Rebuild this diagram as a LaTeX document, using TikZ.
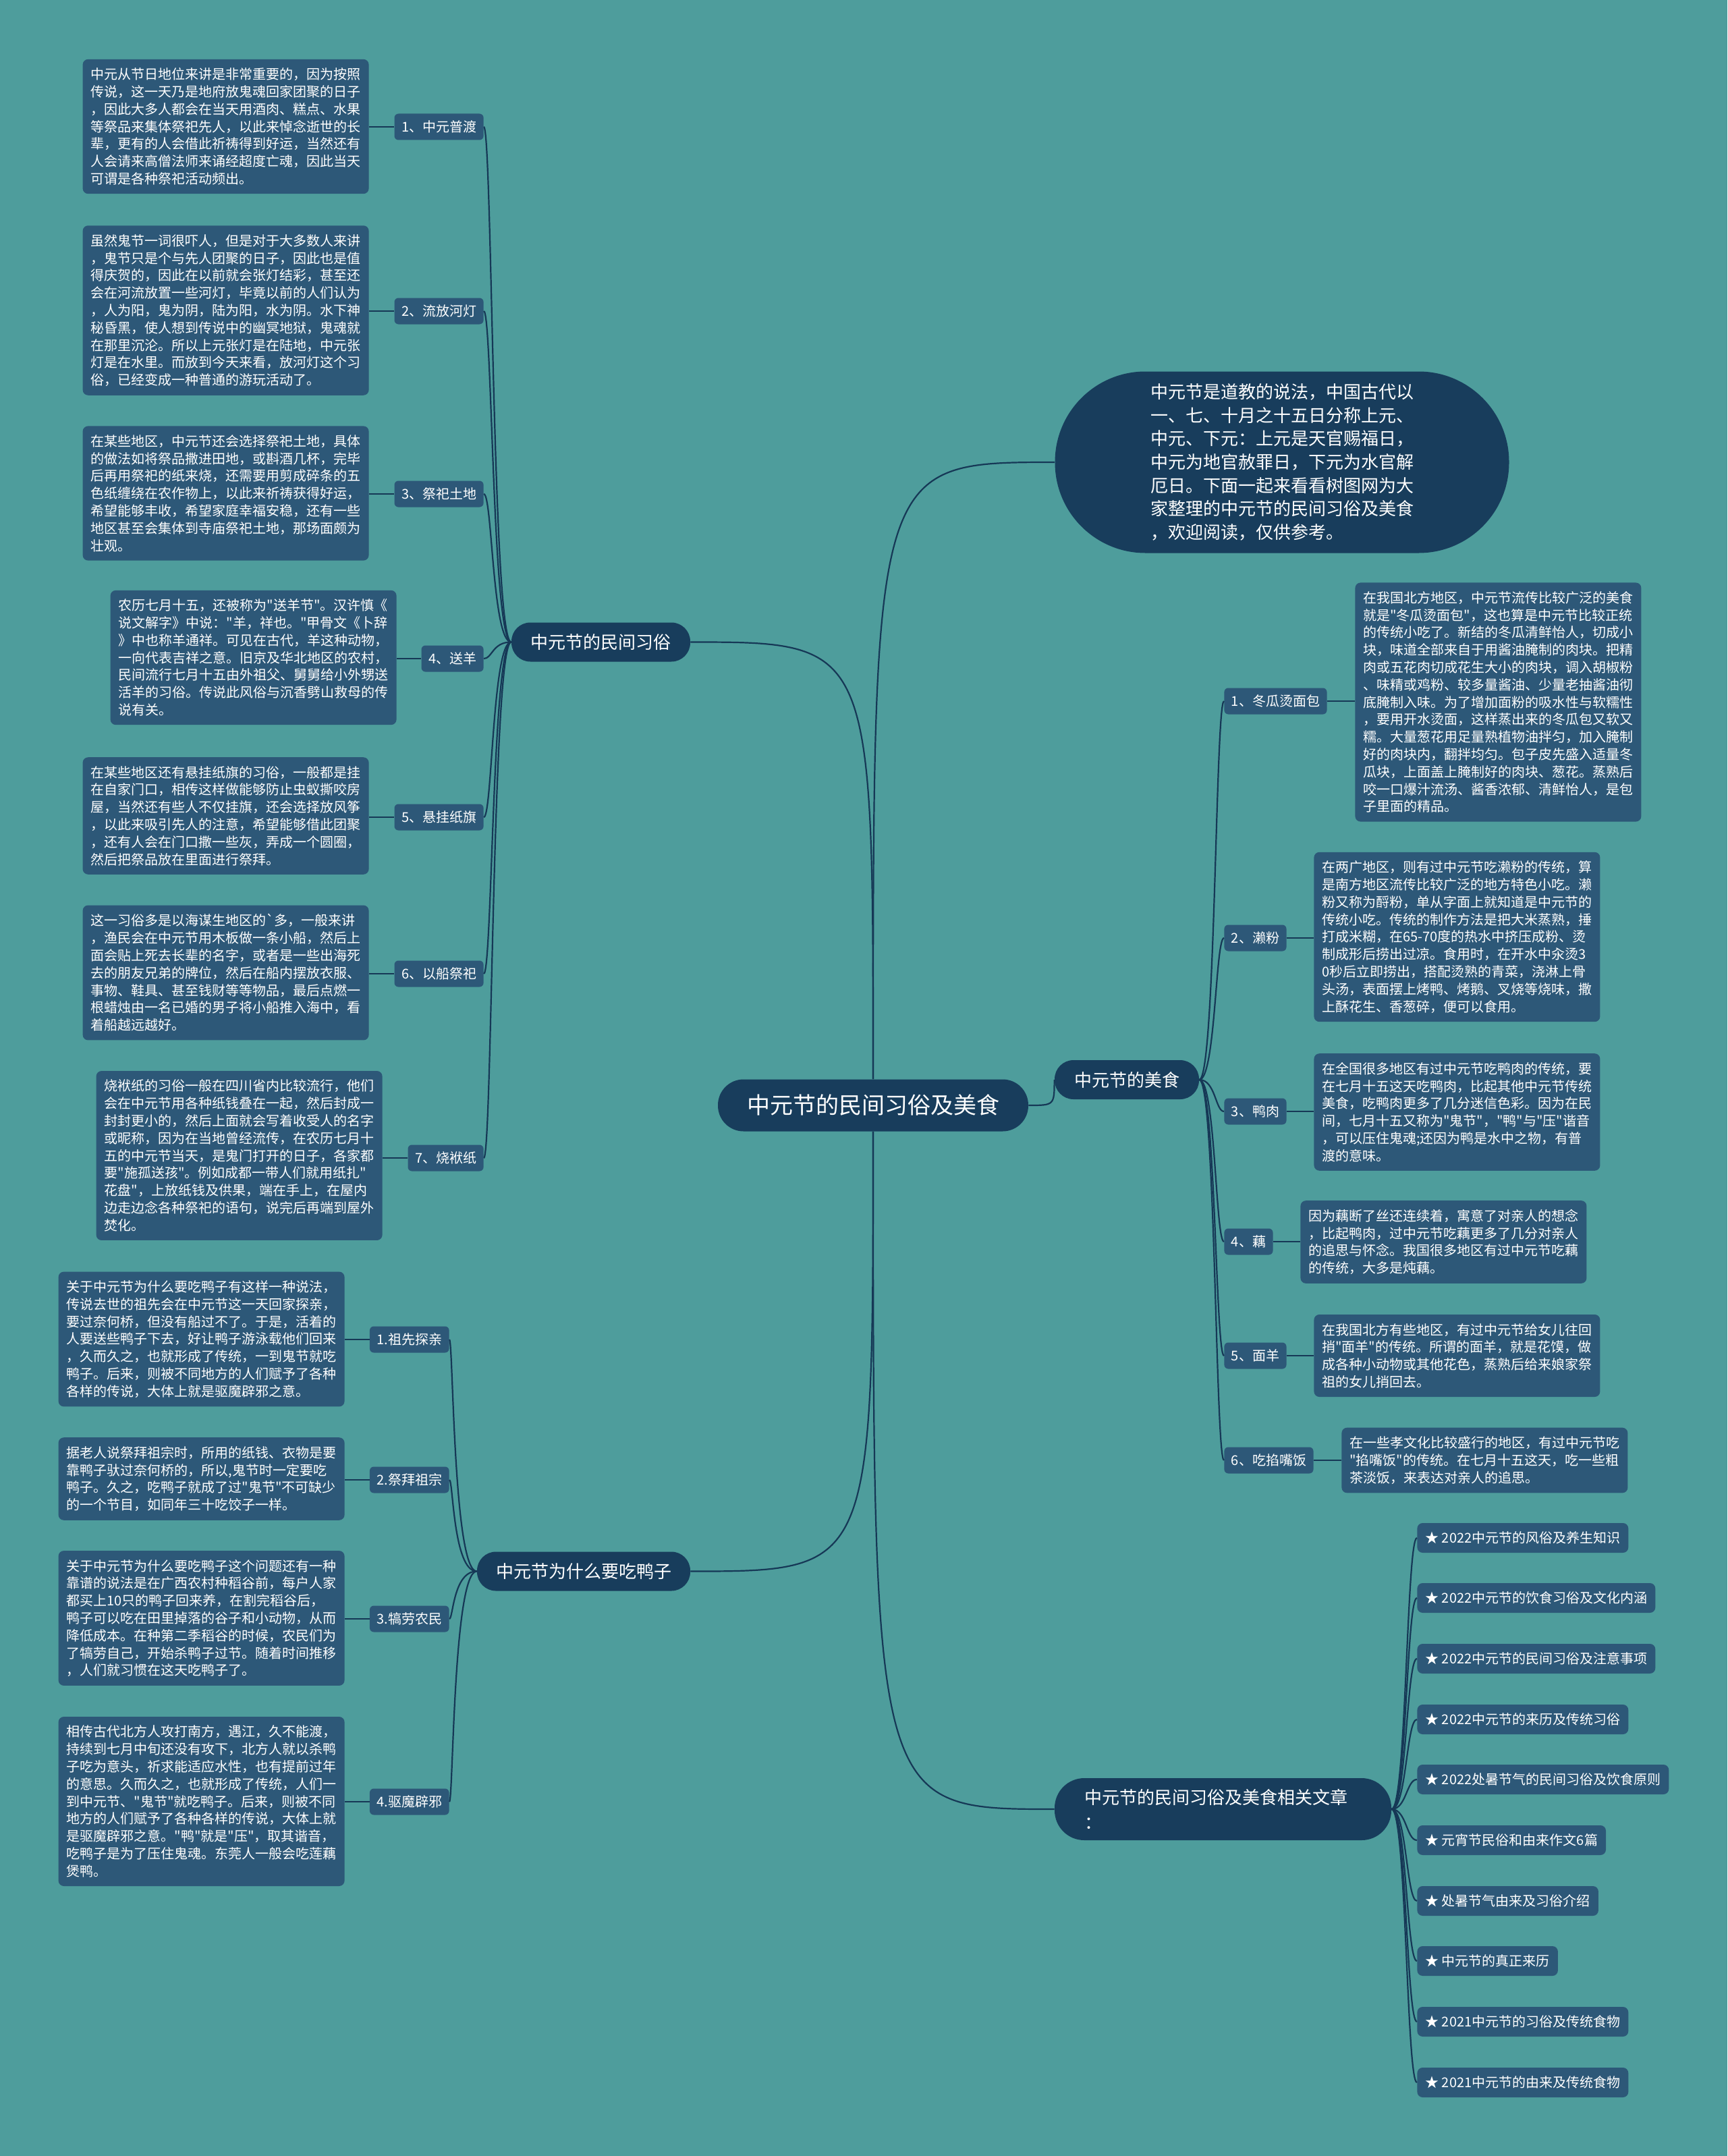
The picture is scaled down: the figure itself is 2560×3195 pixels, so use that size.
\documentclass[tikz,border=0pt]{standalone}
\usepackage{fontspec}
\newfontfamily\cjk{Noto Sans CJK SC}[Ligatures=TeXOff]
\usetikzlibrary{calc}

\definecolor{bgteal}{RGB}{78,157,156}
\definecolor{deepblue}{RGB}{24,61,92}
\definecolor{boxblue}{RGB}{45,88,120}
\definecolor{wirecol}{RGB}{22,56,86}

\tikzset{
  hub/.style={fill=deepblue, text=white, rounded corners=19pt,
    font=\cjk\fontsize{17}{20}\selectfont,
    minimum width=230pt, minimum height=38.5pt, inner sep=0pt},
  intro/.style={fill=deepblue, text=white, rounded corners=67pt, align=left,
    font=\cjk\fontsize{13}{17.3}\selectfont,
    minimum width=336.5pt, minimum height=134.5pt},
  topic/.style={fill=deepblue, text=white, rounded corners=14pt,
    font=\cjk\fontsize{13}{18.5}\selectfont,
    minimum height=29pt, inner xsep=0pt},
  tag/.style={fill=boxblue, text=white, rounded corners=3pt,
    font=\cjk\fontsize{10}{12}\selectfont,
    minimum height=19.5pt, inner xsep=5.25pt, inner ysep=0pt},
  leaf/.style={fill=boxblue, text=white, rounded corners=4pt, align=left,
    text width=200pt, font=\cjk\fontsize{10}{12.9}\selectfont,
    inner xsep=6pt, inner ysep=6.5pt},
  link/.style={fill=boxblue, text=white, rounded corners=4pt,
    font=\cjk\fontsize{10}{12}\selectfont,
    minimum height=22pt, inner xsep=6pt, inner ysep=0pt},
  wire/.style={draw=wirecol, line width=1.1pt},
}

\begin{document}
\begin{tikzpicture}[x=0.5pt, y=-0.5pt]
  \fill[bgteal] (0,0) rectangle (2560,3195);
  \useasboundingbox (0,0) rectangle (2560,3195);

  % centre and main branches
  \node[hub] (hub) at (1294,1638) {中元节的民间习俗及美食};
  \node[intro] (intro) at (1900,685) {中元节是道教的说法，中国古代以\\一、七、十月之十五日分称上元、\\中元、下元：上元是天官赐福日，\\中元为地官赦罪日，下元为水官解\\厄日。下面一起来看看树图网为大\\家整理的中元节的民间习俗及美食\\，欢迎阅读，仅供参考。};
  \node[topic, minimum width=132.5pt] (folk) at (890.5,951.5) {中元节的民间习俗};
  \node[topic, minimum width=158pt] (duck) at (865,2328.5) {中元节为什么要吃鸭子};
  \node[topic, minimum width=107pt] (food) at (1670,1600) {中元节的美食};
  \node[topic, minimum width=249.5pt, minimum height=46pt, rounded corners=22pt,
    align=left, text width=205pt] (more) at (1812.5,2681) {中元节的民间习俗及美食相关文章\\：};

  \draw[wire] (hub.north) .. controls (hub.north |- folk.east) .. (folk.east);
  \draw[wire] (hub.north) .. controls (hub.north |- intro.west) .. (intro.west);
  \draw[wire] (hub.east) .. controls (hub.east -| food.west) .. (food.west);
  \draw[wire] (hub.south) .. controls (hub.south |- duck.east) .. (duck.east);
  \draw[wire] (hub.south) .. controls (hub.south |- more.west) .. (more.west);

  % folk customs
  \node[tag, anchor=east] (ft1) at (717,188) {1、中元普渡};
  \node[tag, anchor=east] (ft2) at (717,461) {2、流放河灯};
  \node[tag, anchor=east] (ft3) at (717,732) {3、祭祀土地};
  \node[tag, anchor=east] (ft4) at (717,976) {4、送羊};
  \node[tag, anchor=east] (ft5) at (717,1211) {5、悬挂纸旗};
  \node[tag, anchor=east] (ft6) at (717,1443) {6、以船祭祀};
  \node[tag, anchor=east] (ft7) at (717,1716) {7、烧袱纸};

  \node[leaf, anchor=east] (fx1) at (547,187.5) {中元从节日地位来讲是非常重要的，因为按照\\传说，这一天乃是地府放鬼魂回家团聚的日子\\，因此大多人都会在当天用酒肉、糕点、水果\\等祭品来集体祭祀先人，以此来悼念逝世的长\\辈，更有的人会借此祈祷得到好运，当然还有\\人会请来高僧法师来诵经超度亡魂，因此当天\\可谓是各种祭祀活动频出。};
  \node[leaf, anchor=east] (fx2) at (547,460) {虽然鬼节一词很吓人，但是对于大多数人来讲\\，鬼节只是个与先人团聚的日子，因此也是值\\得庆贺的，因此在以前就会张灯结彩，甚至还\\会在河流放置一些河灯，毕竟以前的人们认为\\，人为阳，鬼为阴，陆为阳，水为阴。水下神\\秘昏黑，使人想到传说中的幽冥地狱，鬼魂就\\在那里沉沦。所以上元张灯是在陆地，中元张\\灯是在水里。而放到今天来看，放河灯这个习\\俗，已经变成一种普通的游玩活动了。};
  \node[leaf, anchor=east] (fx3) at (547,731) {在某些地区，中元节还会选择祭祀土地，具体\\的做法如将祭品撒进田地，或斟酒几杯，完毕\\后再用祭祀的纸来烧，还需要用剪成碎条的五\\色纸缠绕在农作物上，以此来祈祷获得好运，\\希望能够丰收，希望家庭幸福安稳，还有一些\\地区甚至会集体到寺庙祭祀土地，那场面颇为\\壮观。};
  \node[leaf, anchor=east] (fx4) at (588,974.5) {农历七月十五，还被称为"送羊节"。汉许慎《\\说文解字》中说："羊，祥也。"甲骨文《卜辞\\》中也称羊通祥。可见在古代，羊这种动物，\\一向代表吉祥之意。旧京及华北地区的农村，\\民间流行七月十五由外祖父、舅舅给小外甥送\\活羊的习俗。传说此风俗与沉香劈山救母的传\\说有关。};
  \node[leaf, anchor=east] (fx5) at (547,1209) {在某些地区还有悬挂纸旗的习俗，一般都是挂\\在自家门口，相传这样做能够防止虫蚁撕咬房\\屋，当然还有些人不仅挂旗，还会选择放风筝\\，以此来吸引先人的注意，希望能够借此团聚\\，还有人会在门口撒一些灰，弄成一个圆圈，\\然后把祭品放在里面进行祭拜。};
  \node[leaf, anchor=east] (fx6) at (547,1441.5) {这一习俗多是以海谋生地区的`多，一般来讲\\，渔民会在中元节用木板做一条小船，然后上\\面会贴上死去长辈的名字，或者是一些出海死\\去的朋友兄弟的牌位，然后在船内摆放衣服、\\事物、鞋具、甚至钱财等等物品，最后点燃一\\根蜡烛由一名已婚的男子将小船推入海中，看\\着船越远越好。};
  \node[leaf, anchor=east] (fx7) at (567,1712.5) {烧袱纸的习俗一般在四川省内比较流行，他们\\会在中元节用各种纸钱叠在一起，然后封成一\\封封更小的，然后上面就会写着收受人的名字\\或昵称，因为在当地曾经流传，在农历七月十\\五的中元节当天，是鬼门打开的日子，各家都\\要"施孤送孩"。例如成都一带人们就用纸扎"\\花盘"，上放纸钱及供果，端在手上，在屋内\\边走边念各种祭祀的语句，说完后再端到屋外\\焚化。};

  \coordinate (fk) at ([xshift=-14pt]folk.west);
  \foreach \i in {1,...,7} {
    \draw[wire] (folk.west) .. controls (fk) and (fk |- ft\i.east) .. (ft\i.east);
    \draw[wire] (ft\i.west) -- (ft\i.west -| fx\i.east);
  }

  % why duck
  \node[tag, anchor=east] (dt1) at (666,1985) {1.祖先探亲};
  \node[tag, anchor=east] (dt2) at (666,2193) {2.祭拜祖宗};
  \node[tag, anchor=east] (dt3) at (666,2399) {3.犒劳农民};
  \node[tag, anchor=east] (dt4) at (666,2670) {4.驱魔辟邪};

  \node[leaf, anchor=east] (dx1) at (511,1984.5) {关于中元节为什么要吃鸭子有这样一种说法，\\传说去世的祖先会在中元节这一天回家探亲，\\要过奈何桥，但没有船过不了。于是，活着的\\人要送些鸭子下去，好让鸭子游泳载他们回来\\，久而久之，也就形成了传统，一到鬼节就吃\\鸭子。后来，则被不同地方的人们赋予了各种\\各样的传说，大体上就是驱魔辟邪之意。};
  \node[leaf, anchor=east] (dx2) at (511,2191.5) {据老人说祭拜祖宗时，所用的纸钱、衣物是要\\靠鸭子驮过奈何桥的，所以,鬼节时一定要吃\\鸭子。久之，吃鸭子就成了过"鬼节"不可缺少\\的一个节目，如同年三十吃饺子一样。};
  \node[leaf, anchor=east] (dx3) at (511,2398) {关于中元节为什么要吃鸭子这个问题还有一种\\靠谱的说法是在广西农村种稻谷前，每户人家\\都买上10只的鸭子回来养，在割完稻谷后，\\鸭子可以吃在田里掉落的谷子和小动物，从而\\降低成本。在种第二季稻谷的时候，农民们为\\了犒劳自己，开始杀鸭子过节。随着时间推移\\，人们就习惯在这天吃鸭子了。};
  \node[leaf, anchor=east] (dx4) at (511,2669.5) {相传古代北方人攻打南方，遇江，久不能渡，\\持续到七月中旬还没有攻下，北方人就以杀鸭\\子吃为意头，祈求能适应水性，也有提前过年\\的意思。久而久之，也就形成了传统，人们一\\到中元节、"鬼节"就吃鸭子。后来，则被不同\\地方的人们赋予了各种各样的传说，大体上就\\是驱魔辟邪之意。"鸭"就是"压"，取其谐音，\\吃鸭子是为了压住鬼魂。东莞人一般会吃莲藕\\煲鸭。};

  \coordinate (dk) at ([xshift=-17.5pt]duck.west);
  \foreach \i in {1,...,4} {
    \draw[wire] (duck.west) .. controls (dk) and (dk |- dt\i.east) .. (dt\i.east);
    \draw[wire] (dt\i.west) -- (dt\i.west -| dx\i.east);
  }

  % food
  \node[tag, anchor=west] (mt1) at (1814,1039) {1、冬瓜烫面包};
  \node[tag, anchor=west] (mt2) at (1814,1390) {2、濑粉};
  \node[tag, anchor=west] (mt3) at (1814,1647) {3、鸭肉};
  \node[tag, anchor=west] (mt4) at (1814,1840) {4、藕};
  \node[tag, anchor=west] (mt5) at (1814,2009) {5、面羊};
  \node[tag, anchor=west] (mt6) at (1814,2164) {6、吃掐嘴饭};

  \node[leaf, anchor=west] (mx1) at (2008,1040.5) {在我国北方地区，中元节流传比较广泛的美食\\就是"冬瓜烫面包"，这也算是中元节比较正统\\的传统小吃了。新结的冬瓜清鲜怡人，切成小\\块，味道全部来自于用酱油腌制的肉块。把精\\肉或五花肉切成花生大小的肉块，调入胡椒粉\\、味精或鸡粉、较多量酱油、少量老抽酱油彻\\底腌制入味。为了增加面粉的吸水性与软糯性\\，要用开水烫面，这样蒸出来的冬瓜包又软又\\糯。大量葱花用足量熟植物油拌匀，加入腌制\\好的肉块内，翻拌均匀。包子皮先盛入适量冬\\瓜块，上面盖上腌制好的肉块、葱花。蒸熟后\\咬一口爆汁流汤、酱香浓郁、清鲜怡人，是包\\子里面的精品。};
  \node[leaf, anchor=west] (mx2) at (1947,1388.5) {在两广地区，则有过中元节吃濑粉的传统，算\\是南方地区流传比较广泛的地方特色小吃。濑\\粉又称为酹粉，单从字面上就知道是中元节的\\传统小吃。传统的制作方法是把大米蒸熟，捶\\打成米糊，在65-70度的热水中挤压成粉、烫\\制成形后捞出过凉。食用时，在开水中汆烫3\\0秒后立即捞出，搭配烫熟的青菜，浇淋上骨\\头汤，表面摆上烤鸭、烤鹅、叉烧等烧味，撒\\上酥花生、香葱碎，便可以食用。};
  \node[leaf, anchor=west] (mx3) at (1947,1648) {在全国很多地区有过中元节吃鸭肉的传统，要\\在七月十五这天吃鸭肉，比起其他中元节传统\\美食，吃鸭肉更多了几分迷信色彩。因为在民\\间，七月十五又称为"鬼节"，"鸭"与"压"谐音\\，可以压住鬼魂;还因为鸭是水中之物，有普\\渡的意味。};
  \node[leaf, anchor=west] (mx4) at (1927,1840.5) {因为藕断了丝还连续着，寓意了对亲人的想念\\，比起鸭肉，过中元节吃藕更多了几分对亲人\\的追思与怀念。我国很多地区有过中元节吃藕\\的传统，大多是炖藕。};
  \node[leaf, anchor=west] (mx5) at (1947,2009) {在我国北方有些地区，有过中元节给女儿往回\\捎"面羊"的传统。所谓的面羊，就是花馍，做\\成各种小动物或其他花色，蒸熟后给来娘家祭\\祖的女儿捎回去。};
  \node[leaf, anchor=west] (mx6) at (1988,2164) {在一些孝文化比较盛行的地区，有过中元节吃\\"掐嘴饭"的传统。在七月十五这天，吃一些粗\\茶淡饭，来表达对亲人的追思。};

  \coordinate (mk) at ([xshift=12pt]food.east);
  \foreach \i in {1,...,6} {
    \draw[wire] (food.east) .. controls (mk) and (mk |- mt\i.west) .. (mt\i.west);
    \draw[wire] (mt\i.east) -- (mt\i.east -| mx\i.west);
  }

  % related articles
  \node[link, anchor=west] (lk1) at (2100,2279) {★ 2022中元节的风俗及养生知识};
  \node[link, anchor=west] (lk2) at (2100,2368) {★ 2022中元节的饮食习俗及文化内涵};
  \node[link, anchor=west] (lk3) at (2100,2458) {★ 2022中元节的民间习俗及注意事项};
  \node[link, anchor=west] (lk4) at (2100,2548) {★ 2022中元节的来历及传统习俗};
  \node[link, anchor=west] (lk5) at (2100,2637) {★ 2022处暑节气的民间习俗及饮食原则};
  \node[link, anchor=west] (lk6) at (2100,2727) {★ 元宵节民俗和由来作文6篇};
  \node[link, anchor=west] (lk7) at (2100,2817) {★ 处暑节气由来及习俗介绍};
  \node[link, anchor=west] (lk8) at (2100,2906) {★ 中元节的真正来历};
  \node[link, anchor=west] (lk9) at (2100,2996) {★ 2021中元节的习俗及传统食物};
  \node[link, anchor=west] (lk10) at (2100,3086) {★ 2021中元节的由来及传统食物};

  \coordinate (lk) at ([xshift=11pt]more.east);
  \foreach \i in {1,...,10}
    \draw[wire] (more.east) .. controls (lk) and (lk |- lk\i.west) .. (lk\i.west);
\end{tikzpicture}
\end{document}
